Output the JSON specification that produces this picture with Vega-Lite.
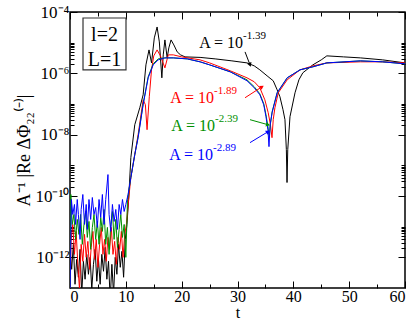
{
  "$schema": "https://vega.github.io/schema/vega-lite/v6.json",
  "width": 335,
  "height": 276,
  "autosize": {"type": "none"},
  "padding": {"left": 70, "top": 12, "right": 10, "bottom": 32},
  "config": {
    "view": {"stroke": "black", "strokeWidth": 1.5},
    "axis": {
      "labelFont": "Liberation Serif",
      "titleFont": "Liberation Serif",
      "labelColor": "black",
      "titleColor": "black",
      "tickColor": "black",
      "domain": false,
      "grid": false,
      "labelFontSize": 17,
      "titleFontSize": 17,
      "titleFontWeight": "normal"
    },
    "text": {"font": "Liberation Serif"}
  },
  "datasets": {
    "curves": [
      {"s":"-1.39","t":0,"v":1.82e-12},{"s":"-1.39","t":0.3,"v":4.07e-13},{"s":"-1.39","t":0.6,"v":2.65e-12},{"s":"-1.39","t":0.9,"v":1.32e-13},{"s":"-1.39","t":1.2,"v":8.61e-13},{"s":"-1.39","t":1.5,"v":2.24e-13},{"s":"-1.39","t":1.8,"v":1.82e-12},{"s":"-1.39","t":2.1,"v":6.3e-14},{"s":"-1.39","t":2.4,"v":7.41e-13},{"s":"-1.39","t":2.7,"v":1.93e-13},{"s":"-1.39","t":3.0,"v":1.25e-12},{"s":"-1.39","t":3.3,"v":2.8e-13},{"s":"-1.39","t":3.6,"v":1e-12},{"s":"-1.39","t":3.9,"v":9.1e-14},{"s":"-1.39","t":4.2,"v":5.92e-13},{"s":"-1.39","t":4.5,"v":1.82e-12},{"s":"-1.39","t":4.8,"v":1.66e-13},{"s":"-1.39","t":5.1,"v":8.61e-13},{"s":"-1.39","t":5.4,"v":1.32e-13},{"s":"-1.39","t":5.7,"v":1.25e-12},{"s":"-1.39","t":6.0,"v":3.51e-13},{"s":"-1.39","t":6.3,"v":2.11e-12},{"s":"-1.39","t":6.6,"v":1.93e-13},{"s":"-1.39","t":6.9,"v":7.41e-13},{"s":"-1.39","t":7.2,"v":4.3e-14},{"s":"-1.39","t":7.5,"v":5.92e-13},{"s":"-1.39","t":7.8,"v":6.3e-14},{"s":"-1.39","t":8.1,"v":1e-12},{"s":"-1.39","t":8.4,"v":2.8e-13},{"s":"-1.39","t":8.7,"v":2.65e-12},{"s":"-1.39","t":9.0,"v":4.73e-13},{"s":"-1.39","t":9.3,"v":1.57e-12},{"s":"-1.39","t":9.6,"v":2.24e-13},{"s":"-1.39","t":9.9,"v":3.85e-12},{"s":"-1.39","t":10.2,"v":1.18e-11},{"s":"-1.39","t":10.5,"v":7.69e-11},{"s":"-1.39","t":10.9,"v":1.79e-9},{"s":"-1.39","t":11.6,"v":2.11e-8},{"s":"-1.39","t":12.5,"v":7.55e-8},{"s":"-1.39","t":13.1,"v":2e-7},{"s":"-1.39","t":13.6,"v":1.89e-6},{"s":"-1.39","t":14.15,"v":5.81e-6},{"s":"-1.39","t":14.6,"v":2.19e-6},{"s":"-1.39","t":15.1,"v":1.43e-5},{"s":"-1.39","t":15.6,"v":3.25e-5},{"s":"-1.39","t":16.0,"v":1.06e-5},{"s":"-1.39","t":16.45,"v":7.14e-7},{"s":"-1.39","t":16.7,"v":4e-6},{"s":"-1.39","t":17.0,"v":1.23e-5},{"s":"-1.39","t":17.4,"v":3.19e-6},{"s":"-1.39","t":17.7,"v":6.75e-6},{"s":"-1.39","t":18.1,"v":1.23e-5},{"s":"-1.39","t":18.6,"v":8.45e-6},{"s":"-1.39","t":19.2,"v":5e-6},{"s":"-1.39","t":19.8,"v":4e-6},{"s":"-1.39","t":20.6,"v":3.44e-6},{"s":"-1.39","t":23.3,"v":3.31e-6},{"s":"-1.39","t":26,"v":2.96e-6},{"s":"-1.39","t":29,"v":2.55e-6},{"s":"-1.39","t":31.7,"v":2.19e-6},{"s":"-1.39","t":33.0,"v":1.75e-6},{"s":"-1.39","t":34.0,"v":1.3e-6},{"s":"-1.39","t":35.3,"v":8.29e-7},{"s":"-1.39","t":36.4,"v":5.71e-7},{"s":"-1.39","t":37.1,"v":2.9e-7},{"s":"-1.39","t":37.6,"v":1.72e-7},{"s":"-1.39","t":38.15,"v":6.5e-8},{"s":"-1.39","t":38.5,"v":3.08e-8},{"s":"-1.39","t":38.75,"v":3.25e-9},{"s":"-1.39","t":38.87,"v":2.75e-10},{"s":"-1.39","t":39.0,"v":3.25e-9},{"s":"-1.39","t":39.4,"v":3.85e-8},{"s":"-1.39","t":40.3,"v":2.32e-7},{"s":"-1.39","t":41.0,"v":6.15e-7},{"s":"-1.39","t":41.7,"v":1.04e-6},{"s":"-1.39","t":43.5,"v":1.89e-6},{"s":"-1.39","t":45.0,"v":2.75e-6},{"s":"-1.39","t":46.0,"v":3.71e-6},{"s":"-1.39","t":49,"v":3.44e-6},{"s":"-1.39","t":52,"v":3.19e-6},{"s":"-1.39","t":56,"v":2.75e-6},{"s":"-1.39","t":60,"v":2.19e-6},

      {"s":"-1.89","t":0,"v":4.3e-14},{"s":"-1.89","t":0.2,"v":3.85e-12},{"s":"-1.89","t":0.5,"v":1.18e-11},{"s":"-1.89","t":0.8,"v":1.25e-12},{"s":"-1.89","t":1.1,"v":7.01e-12},{"s":"-1.89","t":1.4,"v":5.92e-13},{"s":"-1.89","t":1.7,"v":9.1e-14},{"s":"-1.89","t":2.0,"v":2.65e-12},{"s":"-1.89","t":2.3,"v":7.41e-13},{"s":"-1.89","t":2.6,"v":5.6e-12},{"s":"-1.89","t":2.9,"v":1e-12},{"s":"-1.89","t":3.2,"v":3.31e-12},{"s":"-1.89","t":3.5,"v":4.07e-13},{"s":"-1.89","t":3.8,"v":2.11e-12},{"s":"-1.89","t":4.1,"v":7.01e-12},{"s":"-1.89","t":4.4,"v":8.61e-13},{"s":"-1.89","t":4.7,"v":3.85e-12},{"s":"-1.89","t":5.0,"v":4.73e-13},{"s":"-1.89","t":5.3,"v":2.65e-12},{"s":"-1.89","t":5.6,"v":9.46e-12},{"s":"-1.89","t":5.9,"v":1.25e-12},{"s":"-1.89","t":6.2,"v":3.85e-12},{"s":"-1.89","t":6.5,"v":7.41e-13},{"s":"-1.89","t":6.8,"v":4.47e-12},{"s":"-1.89","t":7.1,"v":1.82e-12},{"s":"-1.89","t":7.4,"v":9.46e-12},{"s":"-1.89","t":7.7,"v":1.25e-12},{"s":"-1.89","t":8.0,"v":3.31e-12},{"s":"-1.89","t":8.3,"v":5.92e-13},{"s":"-1.89","t":8.6,"v":4.47e-12},{"s":"-1.89","t":8.9,"v":1.82e-12},{"s":"-1.89","t":9.2,"v":7.01e-12},{"s":"-1.89","t":9.5,"v":1e-12},{"s":"-1.89","t":9.8,"v":5.6e-12},{"s":"-1.89","t":10.1,"v":1.18e-11},{"s":"-1.89","t":10.5,"v":7.69e-11},{"s":"-1.89","t":10.9,"v":4e-10},{"s":"-1.89","t":11.6,"v":2.24e-9},{"s":"-1.89","t":12.2,"v":1e-8},{"s":"-1.89","t":13.1,"v":1.37e-7},{"s":"-1.89","t":13.5,"v":9.46e-8},{"s":"-1.89","t":13.8,"v":1.45e-8},{"s":"-1.89","t":14.2,"v":1.72e-7},{"s":"-1.89","t":14.6,"v":1.3e-6},{"s":"-1.89","t":15.0,"v":3.71e-6},{"s":"-1.89","t":15.6,"v":5.81e-6},{"s":"-1.89","t":16.2,"v":3.71e-6},{"s":"-1.89","t":17.0,"v":1.51e-6},{"s":"-1.89","t":17.6,"v":4e-6},{"s":"-1.89","t":18.5,"v":4e-6},{"s":"-1.89","t":20,"v":3.44e-6},{"s":"-1.89","t":23.3,"v":2.75e-6},{"s":"-1.89","t":25,"v":2.19e-6},{"s":"-1.89","t":28.7,"v":1.21e-6},{"s":"-1.89","t":31.7,"v":7.14e-7},{"s":"-1.89","t":33.0,"v":5.3e-7},{"s":"-1.89","t":34.0,"v":3.38e-7},{"s":"-1.89","t":34.9,"v":1.37e-7},{"s":"-1.89","t":35.5,"v":5.19e-8},{"s":"-1.89","t":35.9,"v":2.11e-8},{"s":"-1.89","t":36.18,"v":7.98e-9},{"s":"-1.89","t":36.4,"v":3.08e-8},{"s":"-1.89","t":36.7,"v":7.55e-8},{"s":"-1.89","t":37.3,"v":2.32e-7},{"s":"-1.89","t":38.9,"v":6.15e-7},{"s":"-1.89","t":41.2,"v":1.3e-6},{"s":"-1.89","t":43.5,"v":1.75e-6},{"s":"-1.89","t":46,"v":2.19e-6},{"s":"-1.89","t":52,"v":2.37e-6},{"s":"-1.89","t":56,"v":2.37e-6},{"s":"-1.89","t":60,"v":2.19e-6},

      {"s":"-2.39","t":0,"v":4.3e-14},{"s":"-2.39","t":0.15,"v":1.12e-10},{"s":"-2.39","t":0.4,"v":1.18e-11},{"s":"-2.39","t":0.7,"v":2.5e-11},{"s":"-2.39","t":1.0,"v":3.85e-12},{"s":"-2.39","t":1.3,"v":1.72e-11},{"s":"-2.39","t":1.6,"v":5.6e-12},{"s":"-2.39","t":1.9,"v":2.5e-11},{"s":"-2.39","t":2.2,"v":2.65e-12},{"s":"-2.39","t":2.5,"v":1.18e-11},{"s":"-2.39","t":2.8,"v":3.13e-11},{"s":"-2.39","t":3.1,"v":4.47e-12},{"s":"-2.39","t":3.4,"v":1.48e-11},{"s":"-2.39","t":3.7,"v":1.82e-12},{"s":"-2.39","t":4.0,"v":9.46e-12},{"s":"-2.39","t":4.3,"v":2.5e-11},{"s":"-2.39","t":4.6,"v":3.85e-12},{"s":"-2.39","t":4.9,"v":1.48e-11},{"s":"-2.39","t":5.2,"v":2.65e-12},{"s":"-2.39","t":5.5,"v":2e-11},{"s":"-2.39","t":5.8,"v":7.01e-12},{"s":"-2.39","t":6.1,"v":3.64e-11},{"s":"-2.39","t":6.4,"v":2.65e-12},{"s":"-2.39","t":6.7,"v":9.46e-12},{"s":"-2.39","t":7.0,"v":1.25e-12},{"s":"-2.39","t":7.3,"v":1.18e-11},{"s":"-2.39","t":7.6,"v":3.13e-11},{"s":"-2.39","t":7.9,"v":3.85e-12},{"s":"-2.39","t":8.2,"v":1.72e-11},{"s":"-2.39","t":8.5,"v":2.11e-12},{"s":"-2.39","t":8.8,"v":8.15e-12},{"s":"-2.39","t":9.1,"v":2.5e-11},{"s":"-2.39","t":9.4,"v":4.47e-12},{"s":"-2.39","t":9.7,"v":1.18e-11},{"s":"-2.39","t":10.0,"v":1e-12},{"s":"-2.39","t":10.3,"v":7.69e-11},{"s":"-2.39","t":10.9,"v":4e-10},{"s":"-2.39","t":11.6,"v":2.24e-9},{"s":"-2.39","t":12.2,"v":8.6e-9},{"s":"-2.39","t":13.1,"v":1.02e-7},{"s":"-2.39","t":14.0,"v":7.69e-7},{"s":"-2.39","t":14.9,"v":2.04e-6},{"s":"-2.39","t":15.8,"v":2.96e-6},{"s":"-2.39","t":17.0,"v":3.19e-6},{"s":"-2.39","t":18.5,"v":3.19e-6},{"s":"-2.39","t":21,"v":2.96e-6},{"s":"-2.39","t":23.3,"v":2.37e-6},{"s":"-2.39","t":25,"v":1.89e-6},{"s":"-2.39","t":28.7,"v":1.12e-6},{"s":"-2.39","t":31.7,"v":6.15e-7},{"s":"-2.39","t":33.0,"v":3.64e-7},{"s":"-2.39","t":34.0,"v":2.15e-7},{"s":"-2.39","t":34.7,"v":1.02e-7},{"s":"-2.39","t":35.1,"v":4.47e-8},{"s":"-2.39","t":35.45,"v":1.82e-8},{"s":"-2.39","t":35.7,"v":7.98e-9},{"s":"-2.39","t":35.9,"v":2.28e-8},{"s":"-2.39","t":36.2,"v":5.6e-8},{"s":"-2.39","t":37.1,"v":2.32e-7},{"s":"-2.39","t":38.9,"v":7.14e-7},{"s":"-2.39","t":41.2,"v":1.3e-6},{"s":"-2.39","t":43.5,"v":1.63e-6},{"s":"-2.39","t":46,"v":2.19e-6},{"s":"-2.39","t":52,"v":2.55e-6},{"s":"-2.39","t":56,"v":2.37e-6},{"s":"-2.39","t":60,"v":2.04e-6},

      {"s":"-2.89","t":0,"v":4.3e-14},{"s":"-2.89","t":0.25,"v":7.69e-11},{"s":"-2.89","t":0.5,"v":2.5e-11},{"s":"-2.89","t":0.8,"v":5.3e-11},{"s":"-2.89","t":1.0,"v":1.18e-11},{"s":"-2.89","t":1.3,"v":7.69e-11},{"s":"-2.89","t":1.5,"v":2.5e-11},{"s":"-2.89","t":1.8,"v":3.85e-12},{"s":"-2.89","t":2.0,"v":3.64e-11},{"s":"-2.89","t":2.3,"v":1.12e-10},{"s":"-2.89","t":2.6,"v":1.18e-11},{"s":"-2.89","t":2.9,"v":5.3e-11},{"s":"-2.89","t":3.1,"v":8.15e-12},{"s":"-2.89","t":3.4,"v":7.69e-11},{"s":"-2.89","t":3.7,"v":1.72e-11},{"s":"-2.89","t":4.0,"v":8.93e-11},{"s":"-2.89","t":4.3,"v":2.5e-11},{"s":"-2.89","t":4.6,"v":4.23e-11},{"s":"-2.89","t":4.9,"v":9.46e-12},{"s":"-2.89","t":5.2,"v":7.69e-11},{"s":"-2.89","t":5.5,"v":2e-11},{"s":"-2.89","t":5.8,"v":1.12e-10},{"s":"-2.89","t":6.1,"v":1.18e-11},{"s":"-2.89","t":6.4,"v":7.69e-11},{"s":"-2.89","t":6.8,"v":5e-10},{"s":"-2.89","t":7.0,"v":2.5e-11},{"s":"-2.89","t":7.3,"v":7.01e-12},{"s":"-2.89","t":7.6,"v":5.3e-11},{"s":"-2.89","t":7.9,"v":1.48e-11},{"s":"-2.89","t":8.2,"v":3.64e-11},{"s":"-2.89","t":8.5,"v":8.15e-12},{"s":"-2.89","t":8.8,"v":5.3e-11},{"s":"-2.89","t":9.1,"v":2.5e-11},{"s":"-2.89","t":9.4,"v":7.69e-11},{"s":"-2.89","t":9.7,"v":3.13e-11},{"s":"-2.89","t":10.0,"v":5.3e-11},{"s":"-2.89","t":10.4,"v":1.12e-10},{"s":"-2.89","t":10.9,"v":4e-10},{"s":"-2.89","t":11.6,"v":2.24e-9},{"s":"-2.89","t":12.2,"v":7.98e-9},{"s":"-2.89","t":13.1,"v":9.46e-8},{"s":"-2.89","t":14.0,"v":7.14e-7},{"s":"-2.89","t":14.9,"v":1.89e-6},{"s":"-2.89","t":15.8,"v":2.75e-6},{"s":"-2.89","t":17.0,"v":3.19e-6},{"s":"-2.89","t":18.5,"v":3.19e-6},{"s":"-2.89","t":21,"v":2.96e-6},{"s":"-2.89","t":23.3,"v":2.37e-6},{"s":"-2.89","t":25,"v":1.89e-6},{"s":"-2.89","t":28.7,"v":1.12e-6},{"s":"-2.89","t":31.7,"v":5.71e-7},{"s":"-2.89","t":33.0,"v":3.38e-7},{"s":"-2.89","t":34.0,"v":2e-7},{"s":"-2.89","t":34.7,"v":9.46e-8},{"s":"-2.89","t":35.1,"v":3.85e-8},{"s":"-2.89","t":35.45,"v":1.45e-8},{"s":"-2.89","t":35.64,"v":4.07e-9},{"s":"-2.89","t":35.85,"v":2.11e-8},{"s":"-2.89","t":36.2,"v":5.19e-8},{"s":"-2.89","t":37.1,"v":2.32e-7},{"s":"-2.89","t":38.9,"v":7.14e-7},{"s":"-2.89","t":41.2,"v":1.3e-6},{"s":"-2.89","t":43.5,"v":1.63e-6},{"s":"-2.89","t":46,"v":2.19e-6},{"s":"-2.89","t":52,"v":2.55e-6},{"s":"-2.89","t":56,"v":2.37e-6},{"s":"-2.89","t":60,"v":2.04e-6}
    ],
    "labels": [
      {"s":"-1.39","t":30.99,"v":6.75e-6},
      {"s":"-1.89","t":25.79,"v":1.1e-7},
      {"s":"-2.39","t":25.97,"v":1.35e-8},
      {"s":"-2.89","t":25.61,"v":1.54e-9}
    ],
    "arrows": [
      {"s":"-1.39","t1":31.35,"v1":5e-6,"t2":32.24,"v2":1.89e-6},
      {"s":"-1.89","t1":31.35,"v1":1.6e-7,"t2":34.39,"v2":3.64e-7},
      {"s":"-2.39","t1":32.24,"v1":3.08e-8,"t2":35.47,"v2":2.11e-8},
      {"s":"-2.89","t1":32.24,"v1":5.5e-9,"t2":35.47,"v2":1.25e-8}
    ],
    "box": [{"t1":2.33,"t2":10.03,"v1":6.38e-5,"v2":1.3e-6}],
    "boxtext": [
      {"txt":"l=2","t":6.18,"v":1.14e-5},
      {"txt":"L=1","t":6.18,"v":1.75e-6}
    ]
  },
  "layer": [
    {
      "data": {"name": "box"},
      "mark": {"type": "rect", "fill": "white", "stroke": "#333333", "strokeWidth": 1.2},
      "encoding": {
        "x": {"field": "t1", "type": "quantitative", "scale": {"domain": [0, 60], "nice": false, "zero": false},
          "axis": {
            "values": [0,5,10,15,20,25,30,35,40,45,50,55,60],
            "labelExpr": "datum.value % 10 == 0 ? datum.label : ''",
            "tickSize": {"condition": {"test": "datum.value % 10 == 0", "value": -7}, "value": -4},
            "labelPadding": 7,
            "labelFontSize": 16,
            "title": "t",
            "titleFontSize": 16,
            "titlePadding": 0
          }},
        "x2": {"field": "t2"},
        "y": {"field": "v1", "type": "quantitative", "scale": {"type": "log", "domain": [1e-13, 1e-4], "nice": false},
          "axis": {
            "values": [1e-12,2e-12,3e-12,4e-12,5e-12,6e-12,7e-12,8e-12,9e-12,1e-11,
                       1e-10,2e-10,3e-10,4e-10,5e-10,6e-10,7e-10,8e-10,9e-10,1e-9,
                       1e-8,2e-8,3e-8,4e-8,5e-8,6e-8,7e-8,8e-8,9e-8,1e-7,
                       1e-6,2e-6,3e-6,4e-6,5e-6,6e-6,7e-6,8e-6,9e-6,1e-5,1e-4],
            "labelExpr": "abs(log(datum.value)/LN10 - round(log(datum.value)/LN10)) > 0.001 ? '' : round(log(datum.value)/LN10) == -4 ? '10⁻⁴' : round(log(datum.value)/LN10) == -6 ? '10⁻⁶' : round(log(datum.value)/LN10) == -8 ? '10⁻⁸' : round(log(datum.value)/LN10) == -10 ? '10⁻¹⁰' : round(log(datum.value)/LN10) == -12 ? '10⁻¹²' : ''",
            "tickSize": {"condition": {"test": "abs(log(datum.value)/LN10 - round(log(datum.value)/LN10)) < 0.001 && round(log(datum.value)/LN10) % 2 == 0", "value": -7}, "value": -4},
            "labelPadding": 8,
            "title": "A⁻¹ |Re ΔΦ₂₂⁽⁻⁾|",
            "titleFontSize": 18,
            "titlePadding": 1
          }},
        "y2": {"field": "v2"}
      }
    },
    {
      "data": {"name": "boxtext"},
      "mark": {"type": "text", "fontSize": 20, "align": "center", "baseline": "alphabetic", "color": "black"},
      "encoding": {
        "x": {"field": "t", "type": "quantitative", "scale": {"domain": [0, 60], "nice": false, "zero": false}, "axis": null},
        "y": {"field": "v", "type": "quantitative", "scale": {"type": "log", "domain": [1e-13, 1e-4], "nice": false}, "axis": null},
        "text": {"field": "txt"}
      }
    },
    {
      "data": {"name": "curves"},
      "mark": {"type": "line", "strokeWidth": 1, "clip": true},
      "encoding": {
        "x": {"field": "t", "type": "quantitative", "scale": {"domain": [0, 60], "nice": false, "zero": false}, "axis": null},
        "y": {"field": "v", "type": "quantitative", "scale": {"type": "log", "domain": [1e-13, 1e-4], "nice": false}, "axis": null},
        "color": {"field": "s", "type": "nominal", "scale": {"domain": ["-1.39","-1.89","-2.39","-2.89"], "range": ["#000000","#ff0000","#009000","#0000ff"]}, "legend": null},
        "detail": {"field": "s"}
      }
    },
    {
      "data": {"name": "arrows"},
      "mark": {"type": "rule", "strokeWidth": 1},
      "encoding": {
        "x": {"field": "t1", "type": "quantitative", "scale": {"domain": [0, 60], "nice": false, "zero": false},
          "axis": {
            "orient": "top",
            "values": [0,5,10,15,20,25,30,35,40,45,50,55,60],
            "labels": false,
            "tickSize": {"condition": {"test": "datum.value % 10 == 0", "value": -7}, "value": -4},
            "title": null
          }},
        "x2": {"field": "t2"},
        "y": {"field": "v1", "type": "quantitative", "scale": {"type": "log", "domain": [1e-13, 1e-4], "nice": false},
          "axis": {
            "orient": "right",
            "values": [1e-12,2e-12,3e-12,4e-12,5e-12,6e-12,7e-12,8e-12,9e-12,1e-11,
                       1e-10,2e-10,3e-10,4e-10,5e-10,6e-10,7e-10,8e-10,9e-10,1e-9,
                       1e-8,2e-8,3e-8,4e-8,5e-8,6e-8,7e-8,8e-8,9e-8,1e-7,
                       1e-6,2e-6,3e-6,4e-6,5e-6,6e-6,7e-6,8e-6,9e-6,1e-5,1e-4],
            "labels": false,
            "tickSize": {"condition": {"test": "abs(log(datum.value)/LN10 - round(log(datum.value)/LN10)) < 0.001 && round(log(datum.value)/LN10) % 2 == 0", "value": -7}, "value": -4},
            "title": null
          }},
        "y2": {"field": "v2"},
        "color": {"field": "s", "type": "nominal", "scale": {"domain": ["-1.39","-1.89","-2.39","-2.89"], "range": ["#000000","#ff0000","#009000","#0000ff"]}, "legend": null}
      }
    },
    {
      "data": {"name": "arrows"},
      "transform": [{"filter": "datum.s == '-1.39'"}],
      "mark": {"type": "point", "shape": "triangle-up", "filled": true, "size": 22, "angle": 159, "opacity": 1},
      "encoding": {
        "x": {"field": "t2", "type": "quantitative", "scale": {"domain": [0, 60], "nice": false, "zero": false}, "axis": null},
        "y": {"field": "v2", "type": "quantitative", "scale": {"type": "log", "domain": [1e-13, 1e-4], "nice": false}, "axis": null},
        "color": {"field": "s", "type": "nominal", "scale": {"domain": ["-1.39","-1.89","-2.39","-2.89"], "range": ["#000000","#ff0000","#009000","#0000ff"]}, "legend": null}
      }
    },
    {
      "data": {"name": "arrows"},
      "transform": [{"filter": "datum.s == '-1.89'"}],
      "mark": {"type": "point", "shape": "triangle-up", "filled": true, "size": 22, "angle": 57, "opacity": 1},
      "encoding": {
        "x": {"field": "t2", "type": "quantitative", "scale": {"domain": [0, 60], "nice": false, "zero": false}, "axis": null},
        "y": {"field": "v2", "type": "quantitative", "scale": {"type": "log", "domain": [1e-13, 1e-4], "nice": false}, "axis": null},
        "color": {"field": "s", "type": "nominal", "scale": {"domain": ["-1.39","-1.89","-2.39","-2.89"], "range": ["#000000","#ff0000","#009000","#0000ff"]}, "legend": null}
      }
    },
    {
      "data": {"name": "arrows"},
      "transform": [{"filter": "datum.s == '-2.39'"}],
      "mark": {"type": "point", "shape": "triangle-up", "filled": true, "size": 22, "angle": 105, "opacity": 1},
      "encoding": {
        "x": {"field": "t2", "type": "quantitative", "scale": {"domain": [0, 60], "nice": false, "zero": false}, "axis": null},
        "y": {"field": "v2", "type": "quantitative", "scale": {"type": "log", "domain": [1e-13, 1e-4], "nice": false}, "axis": null},
        "color": {"field": "s", "type": "nominal", "scale": {"domain": ["-1.39","-1.89","-2.39","-2.89"], "range": ["#000000","#ff0000","#009000","#0000ff"]}, "legend": null}
      }
    },
    {
      "data": {"name": "arrows"},
      "transform": [{"filter": "datum.s == '-2.89'"}],
      "mark": {"type": "point", "shape": "triangle-up", "filled": true, "size": 22, "angle": 59, "opacity": 1},
      "encoding": {
        "x": {"field": "t2", "type": "quantitative", "scale": {"domain": [0, 60], "nice": false, "zero": false}, "axis": null},
        "y": {"field": "v2", "type": "quantitative", "scale": {"type": "log", "domain": [1e-13, 1e-4], "nice": false}, "axis": null},
        "color": {"field": "s", "type": "nominal", "scale": {"domain": ["-1.39","-1.89","-2.39","-2.89"], "range": ["#000000","#ff0000","#009000","#0000ff"]}, "legend": null}
      }
    },
    {
      "data": {"name": "labels"},
      "mark": {"type": "text", "fontSize": 16, "align": "right", "baseline": "alphabetic", "text": "A = 10"},
      "encoding": {
        "x": {"field": "t", "type": "quantitative", "scale": {"domain": [0, 60], "nice": false, "zero": false}, "axis": null},
        "y": {"field": "v", "type": "quantitative", "scale": {"type": "log", "domain": [1e-13, 1e-4], "nice": false}, "axis": null},
        "color": {"field": "s", "type": "nominal", "scale": {"domain": ["-1.39","-1.89","-2.39","-2.89"], "range": ["#000000","#ff0000","#009000","#0000ff"]}, "legend": null}
      }
    },
    {
      "data": {"name": "labels"},
      "mark": {"type": "text", "fontSize": 11, "align": "left", "baseline": "alphabetic", "dy": -9},
      "encoding": {
        "x": {"field": "t", "type": "quantitative", "scale": {"domain": [0, 60], "nice": false, "zero": false}, "axis": null},
        "y": {"field": "v", "type": "quantitative", "scale": {"type": "log", "domain": [1e-13, 1e-4], "nice": false}, "axis": null},
        "text": {"field": "s"},
        "color": {"field": "s", "type": "nominal", "scale": {"domain": ["-1.39","-1.89","-2.39","-2.89"], "range": ["#000000","#ff0000","#009000","#0000ff"]}, "legend": null}
      }
    }
  ],
  "resolve": {"axis": {"x": "independent", "y": "independent"}}
}
